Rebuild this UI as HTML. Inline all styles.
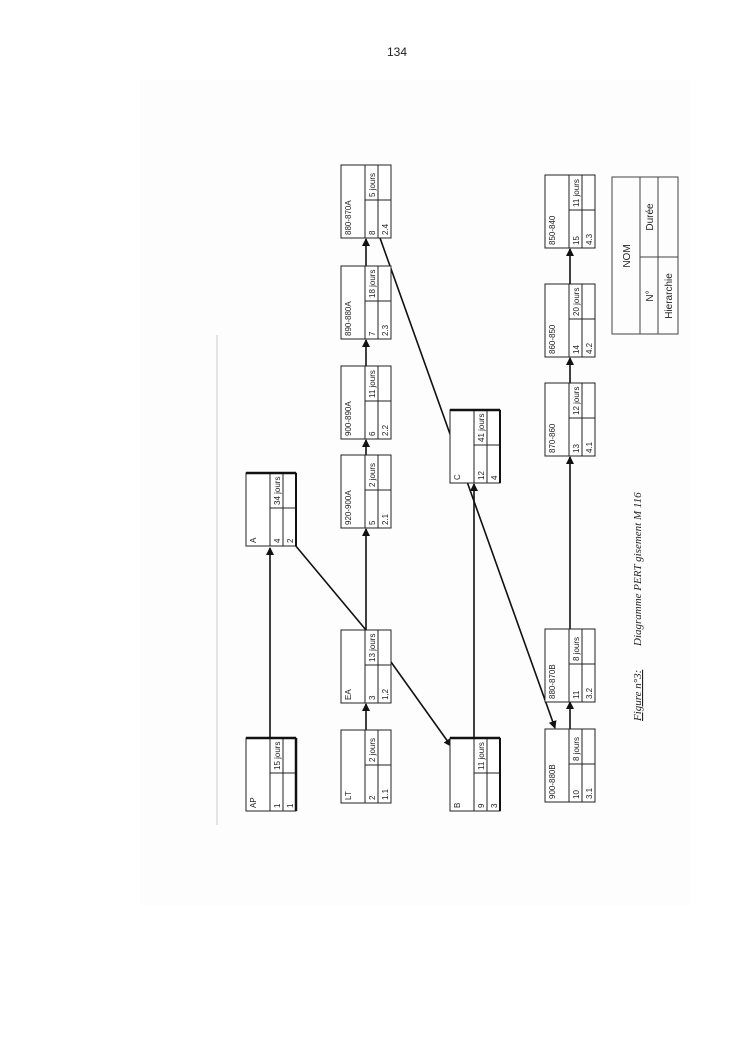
<!DOCTYPE html>
<html><head><meta charset="utf-8"><style>
html,body{margin:0;padding:0;background:#fff;}
svg{display:block;}
text{font-family:"Liberation Sans",sans-serif;font-size:8px;fill:#222;}
</style></head><body>
<svg width="745" height="1053" viewBox="0 0 745 1053" xmlns="http://www.w3.org/2000/svg">
<defs>
<marker id="ar" markerWidth="8" markerHeight="8" refX="7" refY="4" orient="auto" markerUnits="userSpaceOnUse">
<path d="M0,0 L8,4 L0,8 z" fill="#111"/></marker>
<g id="nd">
<rect x="0" y="0" width="50" height="73" fill="#fff" stroke="#222" stroke-width="1"/>
<line x1="24" y1="0" x2="24" y2="73" stroke="#222"/>
<line x1="37" y1="0" x2="37" y2="73" stroke="#222"/>
<line x1="24" y1="35" x2="50" y2="35" stroke="#222"/>
</g>
</defs>
<rect x="140" y="80" width="550" height="825" fill="#fdfdfd"/>
<text x="397" y="56" style="font-size:12px" text-anchor="middle">134</text>
<line x1="217" y1="335" x2="217" y2="825" stroke="#ccc" stroke-width="1"/>

<g stroke="#111" stroke-width="1.6" fill="none">
<line x1="270" y1="738" x2="270" y2="548" marker-end="url(#ar)"/>
<line x1="366" y1="730" x2="366" y2="704" marker-end="url(#ar)"/>
<line x1="366" y1="630" x2="366" y2="529" marker-end="url(#ar)"/>
<line x1="366" y1="455" x2="366" y2="440" marker-end="url(#ar)"/>
<line x1="366" y1="366" x2="366" y2="340" marker-end="url(#ar)"/>
<line x1="366" y1="266" x2="366" y2="239" marker-end="url(#ar)"/>
<line x1="295" y1="545" x2="366" y2="630"/>
<line x1="391" y1="662" x2="451" y2="746" marker-end="url(#ar)"/>
<line x1="380" y1="238" x2="555" y2="728" marker-end="url(#ar)"/>
<line x1="474" y1="738" x2="474" y2="484" marker-end="url(#ar)"/>
<line x1="570" y1="729" x2="570" y2="702" marker-end="url(#ar)"/>
<line x1="570" y1="629" x2="570" y2="457" marker-end="url(#ar)"/>
<line x1="570" y1="383" x2="570" y2="358" marker-end="url(#ar)"/>
<line x1="570" y1="284" x2="570" y2="249" marker-end="url(#ar)"/>
</g>

<g transform="translate(246,738)"><use href="#nd"/><line x1="0" y1="0" x2="50" y2="0" stroke="#111" stroke-width="2.5"/><line x1="50" y1="0" x2="50" y2="73" stroke="#111" stroke-width="2.5"/><text transform="translate(10,70) rotate(-90)">AP</text><text transform="translate(34,70) rotate(-90)">1</text><text transform="translate(34,32) rotate(-90)">15 jours</text><text transform="translate(47,70) rotate(-90)">1</text></g>
<g transform="translate(341,730)"><use href="#nd"/><text transform="translate(10,70) rotate(-90)">LT</text><text transform="translate(34,70) rotate(-90)">2</text><text transform="translate(34,32) rotate(-90)">2 jours</text><text transform="translate(47,70) rotate(-90)">1.1</text></g>
<g transform="translate(341,630)"><use href="#nd"/><text transform="translate(10,70) rotate(-90)">EA</text><text transform="translate(34,70) rotate(-90)">3</text><text transform="translate(34,32) rotate(-90)">13 jours</text><text transform="translate(47,70) rotate(-90)">1,2</text></g>
<g transform="translate(246,473)"><use href="#nd"/><line x1="0" y1="0" x2="50" y2="0" stroke="#111" stroke-width="2.5"/><line x1="50" y1="0" x2="50" y2="73" stroke="#111" stroke-width="2"/><text transform="translate(10,70) rotate(-90)">A</text><text transform="translate(34,70) rotate(-90)">4</text><text transform="translate(34,32) rotate(-90)">34 jours</text><text transform="translate(47,70) rotate(-90)">2</text></g>
<g transform="translate(341,455)"><use href="#nd"/><text transform="translate(10,70) rotate(-90)">920-900A</text><text transform="translate(34,70) rotate(-90)">5</text><text transform="translate(34,32) rotate(-90)">2 jours</text><text transform="translate(47,70) rotate(-90)">2.1</text></g>
<g transform="translate(341,366)"><use href="#nd"/><text transform="translate(10,70) rotate(-90)">900-890A</text><text transform="translate(34,70) rotate(-90)">6</text><text transform="translate(34,32) rotate(-90)">11 jours</text><text transform="translate(47,70) rotate(-90)">2.2</text></g>
<g transform="translate(341,266)"><use href="#nd"/><text transform="translate(10,70) rotate(-90)">890-880A</text><text transform="translate(34,70) rotate(-90)">7</text><text transform="translate(34,32) rotate(-90)">18 jours</text><text transform="translate(47,70) rotate(-90)">2.3</text></g>
<g transform="translate(341,165)"><use href="#nd"/><text transform="translate(10,70) rotate(-90)">880-870A</text><text transform="translate(34,70) rotate(-90)">8</text><text transform="translate(34,32) rotate(-90)">5 jours</text><text transform="translate(47,70) rotate(-90)">2.4</text></g>
<g transform="translate(450,738)"><use href="#nd"/><line x1="0" y1="0" x2="50" y2="0" stroke="#111" stroke-width="2.5"/><line x1="50" y1="0" x2="50" y2="73" stroke="#111" stroke-width="2"/><text transform="translate(10,70) rotate(-90)">B</text><text transform="translate(34,70) rotate(-90)">9</text><text transform="translate(34,32) rotate(-90)">11 jours</text><text transform="translate(47,70) rotate(-90)">3</text></g>
<g transform="translate(450,410)"><use href="#nd"/><line x1="0" y1="0" x2="50" y2="0" stroke="#111" stroke-width="2.5"/><line x1="50" y1="0" x2="50" y2="73" stroke="#111" stroke-width="2"/><text transform="translate(10,70) rotate(-90)">C</text><text transform="translate(34,70) rotate(-90)">12</text><text transform="translate(34,32) rotate(-90)">41 jours</text><text transform="translate(47,70) rotate(-90)">4</text></g>
<g transform="translate(545,729)"><use href="#nd"/><text transform="translate(10,70) rotate(-90)">900-880B</text><text transform="translate(34,70) rotate(-90)">10</text><text transform="translate(34,32) rotate(-90)">8 jours</text><text transform="translate(47,70) rotate(-90)">3.1</text></g>
<g transform="translate(545,629)"><use href="#nd"/><text transform="translate(10,70) rotate(-90)">880-870B</text><text transform="translate(34,70) rotate(-90)">11</text><text transform="translate(34,32) rotate(-90)">8 jours</text><text transform="translate(47,70) rotate(-90)">3.2</text></g>
<g transform="translate(545,383)"><use href="#nd"/><text transform="translate(10,70) rotate(-90)">870-860</text><text transform="translate(34,70) rotate(-90)">13</text><text transform="translate(34,32) rotate(-90)">12 jours</text><text transform="translate(47,70) rotate(-90)">4.1</text></g>
<g transform="translate(545,284)"><use href="#nd"/><text transform="translate(10,70) rotate(-90)">860-850</text><text transform="translate(34,70) rotate(-90)">14</text><text transform="translate(34,32) rotate(-90)">20 jours</text><text transform="translate(47,70) rotate(-90)">4.2</text></g>
<g transform="translate(545,175)"><use href="#nd"/><text transform="translate(10,70) rotate(-90)">850-840</text><text transform="translate(34,70) rotate(-90)">15</text><text transform="translate(34,32) rotate(-90)">11 jours</text><text transform="translate(47,70) rotate(-90)">4.3</text></g>

<g stroke="#444" stroke-width="1" fill="none">
<rect x="612" y="177" width="66" height="157"/>
<line x1="640" y1="177" x2="640" y2="334"/>
<line x1="658" y1="177" x2="658" y2="334"/>
<line x1="640" y1="257" x2="678" y2="257"/>
</g>
<text transform="translate(630,256) rotate(-90)" text-anchor="middle" style="font-size:10px">NOM</text>
<text transform="translate(653,296) rotate(-90)" text-anchor="middle" style="font-size:10px">N°</text>
<text transform="translate(653,217) rotate(-90)" text-anchor="middle" style="font-size:10px">Durée</text>
<text transform="translate(672,296) rotate(-90)" text-anchor="middle" style="font-size:10px">Hierarchie</text>

<text transform="translate(641,721) rotate(-90)" style="font-family:'Liberation Serif',serif;font-size:11px;font-style:italic;text-decoration:underline">Figure n°3:</text>
<text transform="translate(641,646) rotate(-90)" style="font-family:'Liberation Serif',serif;font-size:11px;font-style:italic">Diagramme PERT gisement M 116</text>
</svg>
</body></html>
